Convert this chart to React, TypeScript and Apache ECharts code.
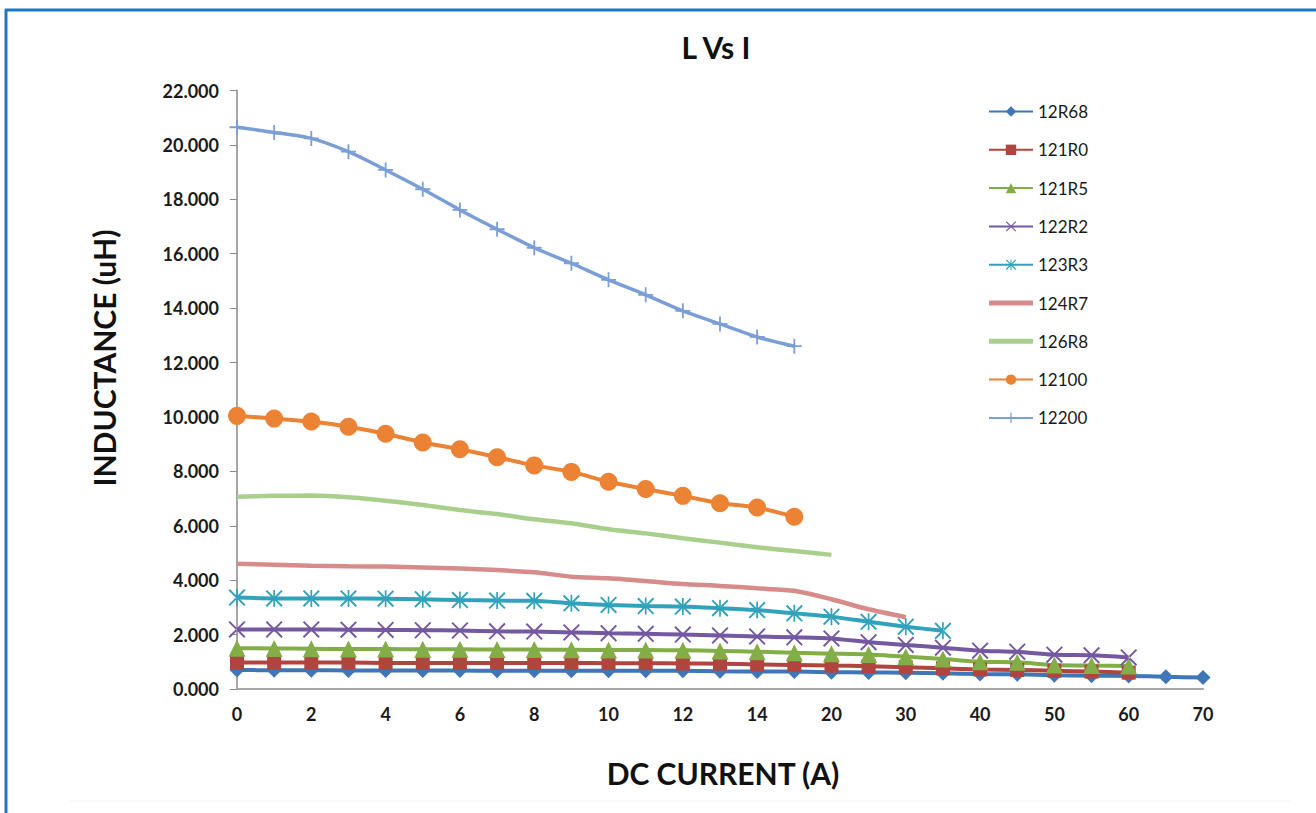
import React, { useEffect, useRef } from "react";
import * as echarts from "echarts";

const currents = ["0","1","2","3","4","5","6","7","8","9","10","11","12","13","14","15","20","25","30","35","40","45","50","55","60","65","70"];

const s12R68 = [0.70,0.69,0.69,0.68,0.68,0.68,0.68,0.67,0.67,0.67,0.67,0.67,0.67,0.65,0.64,0.64,0.62,0.61,0.60,0.58,0.55,0.54,0.51,0.49,0.48,0.45,0.42];
const s121R0 = [0.97,0.97,0.97,0.97,0.96,0.96,0.96,0.96,0.96,0.96,0.95,0.95,0.94,0.93,0.90,0.88,0.86,0.84,0.80,0.76,0.72,0.70,0.67,0.64,0.60];
const s121R5 = [1.50,1.49,1.48,1.47,1.47,1.46,1.46,1.45,1.45,1.44,1.43,1.43,1.42,1.40,1.37,1.33,1.30,1.27,1.19,1.10,1.00,0.98,0.88,0.86,0.85];
const s122R2 = [2.19,2.19,2.19,2.18,2.17,2.16,2.15,2.12,2.11,2.08,2.05,2.03,2.00,1.97,1.93,1.90,1.86,1.72,1.62,1.52,1.41,1.37,1.26,1.24,1.16];
const s123R3 = [3.36,3.33,3.33,3.33,3.32,3.30,3.27,3.25,3.24,3.15,3.09,3.05,3.03,2.97,2.90,2.78,2.66,2.47,2.29,2.14];
const s124R7 = [4.60,4.57,4.53,4.51,4.50,4.47,4.43,4.37,4.29,4.13,4.07,3.97,3.86,3.79,3.70,3.61,3.30,2.93,2.64];
const s126R8 = [7.07,7.10,7.11,7.05,6.92,6.76,6.58,6.43,6.24,6.09,5.87,5.72,5.54,5.38,5.21,5.07,4.93];
const s12100 = [10.04,9.94,9.83,9.64,9.38,9.06,8.81,8.52,8.22,7.98,7.62,7.35,7.10,6.83,6.67,6.33];
const s12200 = [20.65,20.46,20.24,19.75,19.08,18.37,17.61,16.90,16.22,15.65,15.04,14.49,13.90,13.42,12.94,12.60];

const seriesNames = ["12R68","121R0","121R5","122R2","123R3","124R7","126R8","12100","12200"];
const seriesData = [s12R68, s121R0, s121R5, s122R2, s123R3, s124R7, s126R8, s12100, s12200];
const seriesColors = ["#3f76b8","#b0443f","#82ad47","#7458a0","#31a2bb","#d58c8a","#a9cf8c","#ec8233","#7b9ed6"];

const PLUS = "path://M4.4,0H5.6V4.4H10V5.6H5.6V10H4.4V5.6H0V4.4H4.4Z";
const CROSS = "path://M0,0.8L0.8,0L10,9.2L9.2,10ZM10,0.8L9.2,0L0,9.2L0.8,10Z";
const STAR = "path://M0,0.8L0.8,0L10,9.2L9.2,10ZM10,0.8L9.2,0L0,9.2L0.8,10ZM4.5,0H5.5V10H4.5Z";
const LINE_ICON = "path://M0,0H44V5H0Z";

const seriesSymbols = ["diamond","rect","triangle",CROSS,STAR,"none","none","circle",PLUS];
const seriesSymbolSizes = [15,14,17,17,17,0,0,18,15];
const seriesWidths = [4,4,4,4,4,4.5,4.5,4,3.5];

const FONT = "Lato, 'Open Sans', sans-serif";

export default function App() {
  const ref = useRef<HTMLDivElement>(null);
  useEffect(() => {
    if (!ref.current) return;
    const chart = echarts.init(ref.current, null, { renderer: "svg" });
    chart.setOption({
      animation: false,
      backgroundColor: "#ffffff",
      title: {
        text: "L Vs I",
        left: 711,
        top: 27,
        textAlign: "center",
        textStyle: { fontFamily: FONT, fontWeight: "bold", fontSize: 30, color: "#111" },
      },
      legend: {
        orient: "vertical",
        left: 988,
        top: 103,
        itemWidth: 44,
        itemHeight: 13,
        itemGap: 21.3,
        padding: 0,
        textStyle: { fontFamily: FONT, fontSize: 17, color: "#1a1a1a", lineHeight: 14 },
        data: seriesNames.map((n, i) => (seriesSymbols[i] === "none" ? { name: n, icon: LINE_ICON } : n)),
      },
      grid: { left: 237, right: 113, top: 90.5, bottom: 124, containLabel: false },
      xAxis: {
        type: "category",
        data: currents,
        boundaryGap: false,
        axisLine: { lineStyle: { color: "#a6a6a6", width: 2 } },
        axisTick: { show: false },
        axisLabel: {
          interval: 1,
          margin: 16,
          fontFamily: FONT,
          fontWeight: "bold",
          fontSize: 18,
          color: "#1a1a1a",
        },
        splitLine: { show: false },
      },
      yAxis: {
        type: "value",
        min: 0,
        max: 22,
        interval: 2,
        axisLine: { show: true, lineStyle: { color: "#a6a6a6", width: 2 } },
        axisTick: { show: true, length: 7, lineStyle: { color: "#8c8c8c", width: 1 } },
        axisLabel: {
          margin: 18,
          fontFamily: FONT,
          fontWeight: "bold",
          fontSize: 18,
          color: "#1a1a1a",
          formatter: (v: number) => v.toFixed(3),
        },
        splitLine: { show: false },
      },
      graphic: [
        { type: "line", shape: { x1: 5, y1: 10, x2: 1316, y2: 10 }, style: { stroke: "#1f77c0", lineWidth: 3 } },
        { type: "line", shape: { x1: 6, y1: 9, x2: 6, y2: 813 }, style: { stroke: "#1f77c0", lineWidth: 3 } },
        { type: "line", shape: { x1: 70, y1: 801, x2: 1290, y2: 801 }, style: { stroke: "#f2f2f2", lineWidth: 1 } },
        {
          type: "text",
          x: 104,
          y: 358,
          rotation: Math.PI / 2,
          style: { text: "INDUCTANCE (uH)", font: "bold 30px " + FONT, fill: "#111", align: "center", verticalAlign: "middle" },
        },
        {
          type: "text",
          x: 723,
          y: 773,
          style: { text: "DC CURRENT (A)", font: "bold 30px " + FONT, fill: "#111", align: "center", verticalAlign: "middle" },
        },
      ],
      series: seriesNames.map((name, i) => ({
        name,
        type: "line",
        data: seriesData[i],
        smooth: 0.25,
        symbol: seriesSymbols[i],
        symbolSize: seriesSymbolSizes[i],
        showAllSymbol: true,
        color: seriesColors[i],
        lineStyle: { width: seriesWidths[i], color: seriesColors[i] },
        itemStyle: { color: seriesColors[i], borderWidth: 0 },
      })),
    });
    return () => chart.dispose();
  }, []);
  return <div ref={ref} style={{ position: "fixed", left: 0, top: 0, width: 1316, height: 813 }} />;
}
